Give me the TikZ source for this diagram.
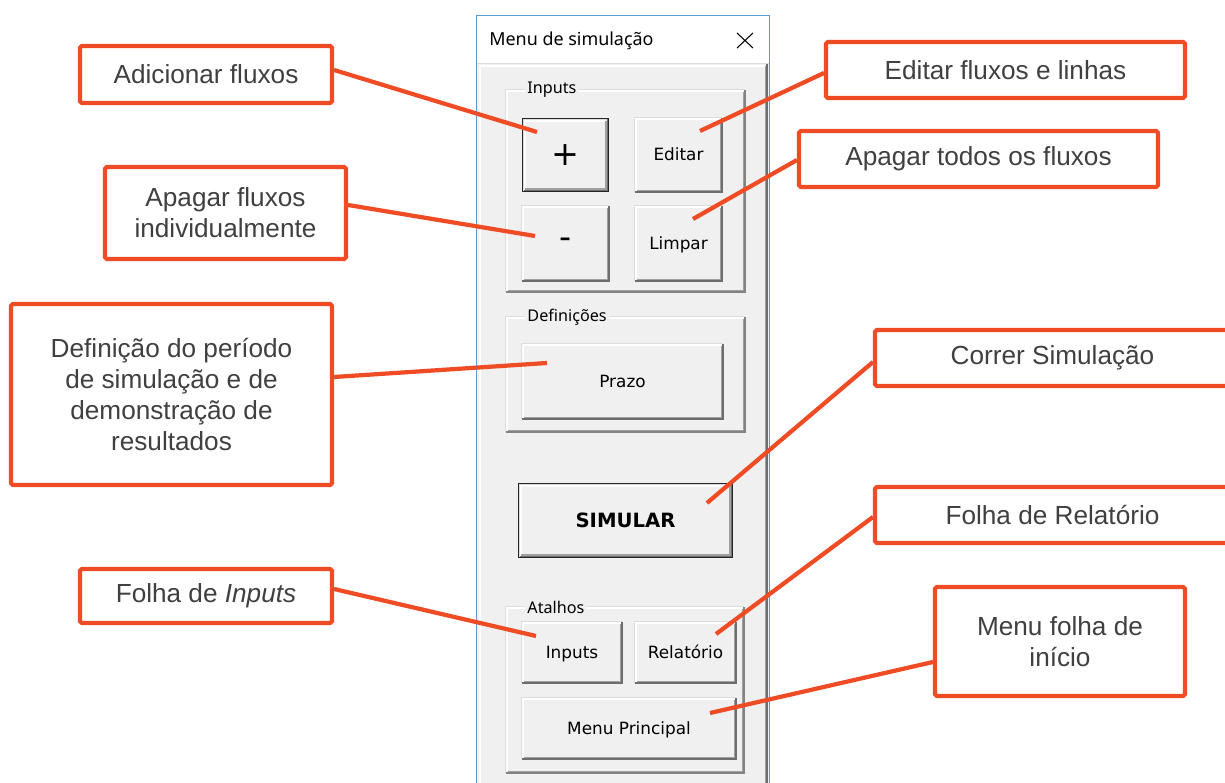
\documentclass[tikz,border=0pt]{standalone}
\usepackage{fontspec}
\setmainfont{Liberation Sans}
\newfontfamily\uifont{DejaVu Sans}
\newfontfamily\titlefont{Noto Sans}
\usetikzlibrary{calc}

\definecolor{callred}{HTML}{EF4B24}
\definecolor{calltext}{HTML}{404040}
\definecolor{btnface}{HTML}{F0F0F0}
\definecolor{winblue}{HTML}{5B9BD5}
\definecolor{edgegray}{HTML}{A0A0A0}
\definecolor{edgedark}{HTML}{6D6D6D}
\definecolor{edgelight}{HTML}{DCDCDC}

\newcommand\pxu{0.02cm}

\tikzset{
  callout/.style={draw=callred, line width=2.3pt, fill=white, rounded corners=1pt,
    align=center, text=calltext, inner sep=0pt,
    font=\fontsize{14.9}{17.6}\selectfont},
  leader/.style={draw=callred, line width=2.4pt},
  btntext/.style={font=\uifont\fontsize{9.6}{11}\selectfont, text=black, inner sep=0pt,
    text height=0.73em, text depth=0.1em},
  bigsign/.style={font=\uifont\fontsize{19}{20}\selectfont, text=black, inner sep=0pt},
  boldtext/.style={font=\uifont\bfseries\fontsize{11.2}{12}\selectfont, text=black, inner sep=0pt},
  grplabel/.style={font=\titlefont\fontsize{9.2}{10}\selectfont, text=black,
    fill=btnface, inner xsep=1.2pt, inner ysep=0pt},
}

% raised 3D push button: name, x1, y1, x2, y2, label style, label
\newcommand{\winbutton}[7]{%
  \fill[btnface] (#2,#3) rectangle (#4,#5);
  \draw[edgelight, line width=0.6pt] (#2,#5) -- (#2,#3) -- (#4,#3);
  \draw[white, line width=1pt] (#2+1.2,#5-1.2) -- (#2+1.2,#3+1.2) -- (#4-1.2,#3+1.2);
  \draw[edgedark, line width=1pt] (#2,#5) -- (#4,#5) -- (#4,#3);
  \draw[edgegray, line width=0.7pt] (#2+1.6,#5-1.6) -- (#4-1.6,#5-1.6) -- (#4-1.6,#3+1.6);
  \node[#6] (#1) at ({(#2+#4)/2},{(#3+#5)/2}) {#7};
}

% default button with a black focus border
\newcommand{\focusbutton}[7]{%
  \winbutton{#1}{#2+1.5}{#3+1.5}{#4-1.5}{#5-1.5}{#6}{#7}
  \draw[black!85, line width=0.9pt] (#2+0.4,#3+0.4) rectangle (#4-0.4,#5-0.4);
}

% group frame with caption: name, x1, y1, x2, y2, caption
\newcommand{\grpframe}[6]{%
  \draw[edgelight, line width=0.6pt] (#2,#5) -- (#2,#3) -- (#4,#3);
  \draw[white, line width=1pt] (#2+1.2,#5-1.2) -- (#2+1.2,#3+1.2) -- (#4-1.2,#3+1.2);
  \draw[edgedark!85, line width=1.1pt] (#2,#5) -- (#4,#5) -- (#4,#3);
  \draw[edgegray, line width=0.6pt] (#2+1.6,#5-1.6) -- (#4-1.6,#5-1.6) -- (#4-1.6,#3+1.6);
  \node[grplabel, anchor=west] (#1) at (#2+19,#3) {#6};
}

\begin{document}
\begin{tikzpicture}[x=0.02cm, y=-0.02cm]
\useasboundingbox (0,0) rectangle (1225,783);
\clip (0,0) rectangle (1225,783);

% ---- dialog window ----
\fill[white] (476,15) rectangle (770,64);
\fill[btnface] (477,64) rectangle (769,800);
\draw[edgelight, line width=0.6pt] (477,63.8) -- (769,63.8);
\draw[white, line width=1pt] (479.8,800) -- (479.8,65.8) -- (765,65.8);
\draw[edgegray, line width=0.8pt] (765.2,66) -- (765.2,800);
\draw[edgedark, line width=0.9pt] (767.2,64) -- (767.2,800);
\draw[winblue, line width=0.8pt] (476.5,800) -- (476.5,15.5) -- (769.5,15.5) -- (769.5,800);

\node[font=\titlefont\fontsize{10.2}{12}\selectfont, text=black, anchor=west, inner sep=0pt]
  (wintitle) at (489,41) {Menu de simulação};
\draw[black, line width=0.6pt] (737,33) -- (753,48) (737,48) -- (753,33);

% ---- group frames ----
\grpframe{grpInputs}{506}{90}{745}{292}{Inputs}
\grpframe{grpDef}{506}{317}{745}{432}{Definições}
\grpframe{grpAtalhos}{506}{607}{744}{773}{Atalhos}

% ---- buttons ----
\focusbutton{bplus}{522}{118}{609}{192}{bigsign}{+}
\winbutton{beditar}{635}{118}{722}{192}{btntext}{Editar}
\winbutton{bminus}{522}{206}{609}{281}{bigsign}{-}
\winbutton{blimpar}{635}{206}{722}{281}{btntext}{Limpar}
\winbutton{bprazo}{522}{344}{723}{419}{btntext}{Prazo}
\focusbutton{bsimular}{518}{483}{733}{558}{boldtext}{SIMULAR}
\winbutton{binputs}{522}{622}{622}{683}{btntext}{Inputs}
\winbutton{brelat}{635}{622}{736}{683}{btntext}{Relatório}
\winbutton{bmenu}{522}{698}{736}{759}{btntext}{Menu Principal}

% ---- callout boxes ----
\node[callout, minimum width={252*\pxu}, minimum height={57*\pxu}] (adic) at (206,74.5) {Adicionar fluxos};
\node[callout, minimum width={241*\pxu}, minimum height={92*\pxu}] (apagind) at (225.5,213) {Apagar fluxos\\individualmente};
\node[callout, minimum width={321*\pxu}, minimum height={181*\pxu}] (defin) at (171.5,394.5)
  {Definição do período\\de simulação e de\\demonstração de\\resultados};
\node[callout, minimum width={252*\pxu}, minimum height={54*\pxu}] (folhainp) at (206,596) {Folha de \textit{Inputs}};
\node[callout, minimum width={359*\pxu}, minimum height={56*\pxu}] (editar) at (1005.5,70) {Editar fluxos e linhas};
\node[callout, minimum width={359*\pxu}, minimum height={56*\pxu}] (apagtodos) at (978.5,159) {Apagar todos os fluxos};
\node[callout, minimum width={355*\pxu}, minimum height={56*\pxu}] (correr) at (1052.5,358) {Correr Simulação};
\node[callout, minimum width={355*\pxu}, minimum height={56*\pxu}] (relat) at (1052.5,515) {Folha de Relatório};
\node[callout, minimum width={250*\pxu}, minimum height={109*\pxu}] (menuf) at (1060,641.5) {Menu folha de\\início};

% ---- leader end points on the buttons ----
\coordinate (tipAdic) at (537,132);
\coordinate (tipApag) at (535,236);
\coordinate (tipDef) at (547,363);
\coordinate (tipFInp) at (536,636);
\coordinate (tipEdit) at (700,131);
\coordinate (tipLimp) at (693,219);
\coordinate (tipSim) at (707,503);
\coordinate (tipRel) at (716,634);
\coordinate (tipMenu) at (710,713);

% ---- leaders ----
\draw[leader] ($(adic.east)+(0,-4.5)$) -- (tipAdic);
\draw[leader] ($(apagind.east)+(0,-8)$) -- (tipApag);
\draw[leader] ($(defin.east)+(0,-17.5)$) -- (tipDef);
\draw[leader] ($(folhainp.east)+(0,-7)$) -- (tipFInp);
\draw[leader] ($(editar.west)+(0,3)$) -- (tipEdit);
\draw[leader] ($(apagtodos.west)+(0,1)$) -- (tipLimp);
\draw[leader] ($(correr.west)+(0,4)$) -- (tipSim);
\draw[leader] ($(relat.west)+(0,2)$) -- (tipRel);
\draw[leader] ($(menuf.west)+(0,20.5)$) -- (tipMenu);
\end{tikzpicture}
\end{document}
